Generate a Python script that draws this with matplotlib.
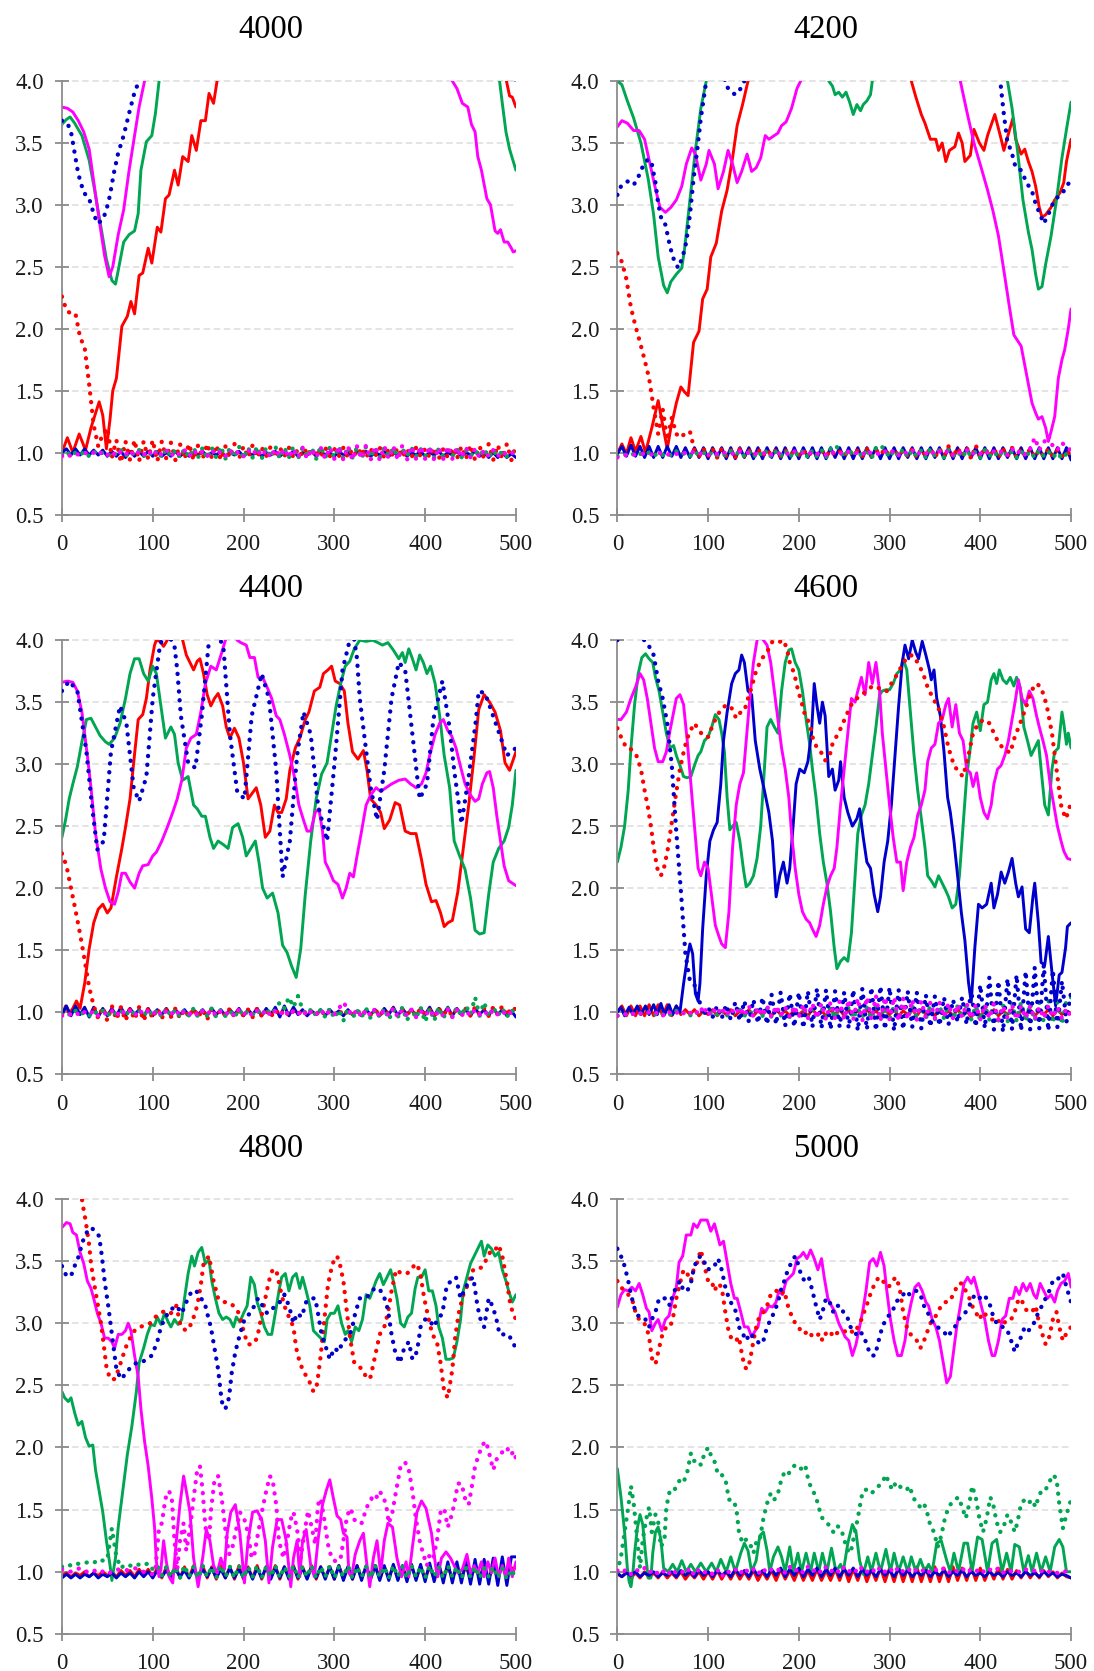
import numpy as np
import matplotlib
matplotlib.use("Agg")
import matplotlib.pyplot as plt
from matplotlib.ticker import FormatStrFormatter, MultipleLocator

RED = "#ff0000"
GREEN = "#00a651"
BLUE = "#0000cc"
MAGENTA = "#ff00ff"

# Series are either (x, y) point lists, or plain y lists sampled every 5 steps (x = 0..500).
STEP = 5

# ---------------- 4000 ----------------
s4000_red = [(0, 1.00), (6, 1.12), (12, 1.00), (19, 1.15), (26, 1.02), (32, 1.20), (41, 1.41), (45, 1.30),
             (49, 1.03), (53, 1.27), (56, 1.50), (60, 1.60), (66, 2.02), (72, 2.10), (76, 2.22), (80, 2.12),
             (85, 2.43), (89, 2.45), (95, 2.65), (99, 2.53), (105, 2.82), (109, 2.78), (114, 3.05), (118, 3.08),
             (124, 3.28), (128, 3.16), (133, 3.39), (139, 3.35), (143, 3.56), (148, 3.44), (153, 3.68), (158, 3.68),
             (162, 3.90), (167, 3.82), (173, 4.10), (480, 4.30), (489, 4.02), (493, 3.88), (496, 3.87), (500, 3.79)]
d4000_red = [2.26, 2.15, 2.12, 2.12, 1.93, 1.85, 1.55, 1.22, 1.05, 1.15,
             1.20, 0.96, 1.10, 0.92, 1.09, 0.94, 1.10, 0.93, 1.09, 0.95,
             1.10, 0.93, 1.09, 0.95, 1.08, 0.94, 1.07, 0.95, 1.07, 0.94,
             1.06, 0.95, 1.07, 0.96, 1.06, 0.94, 1.05, 0.96, 1.07, 0.95,
             1.05, 0.96, 1.06, 0.96, 1.04, 0.97, 1.05, 0.96, 1.04, 0.97,
             1.04, 0.96, 1.03, 0.97, 1.04, 0.97, 1.03, 0.96, 1.04, 0.97,
             1.03, 0.97, 1.04, 0.96, 1.03, 0.97, 1.04, 0.96, 1.03, 0.97,
             1.04, 0.96, 1.03, 0.97, 1.04, 0.96, 1.03, 0.96, 1.04, 0.97,
             1.03, 0.96, 1.04, 0.95, 1.03, 0.96, 1.04, 0.95, 1.05, 0.95,
             1.06, 0.94, 1.05, 0.95, 1.07, 0.94, 1.06, 0.95, 1.07, 0.94,
             1.06]
s4000_green = [(0, 3.65), (5, 3.69), (9, 3.71), (14, 3.66), (22, 3.56), (30, 3.36), (35, 3.16), (43, 2.82),
               (49, 2.56), (55, 2.39), (59, 2.36), (62, 2.47), (68, 2.70), (74, 2.76), (80, 2.79), (84, 2.93),
               (87, 3.28), (93, 3.51), (99, 3.56), (103, 3.74), (107, 4.00), (110, 4.15), (480, 4.15), (482, 4.00),
               (485, 3.82), (489, 3.59), (493, 3.45), (500, 3.28)]
d4000_green = [0.98, 1.01, 0.97, 1.00, 0.98, 1.01, 0.97, 1.01, 0.98, 1.00,
               0.97, 1.01, 0.98, 1.02, 0.97, 1.01, 0.98, 1.02, 0.97, 1.01,
               0.97, 1.02, 0.96, 1.03, 0.97, 1.02, 0.96, 1.03, 0.96, 1.04,
               0.96, 1.04, 0.95, 1.04, 0.96, 1.05, 0.95, 1.04, 0.96, 1.05,
               0.95, 1.04, 0.96, 1.05, 0.95, 1.04, 0.96, 1.05, 0.95, 1.04,
               0.96, 1.05, 0.95, 1.04, 0.96, 1.04, 0.95, 1.05, 0.96, 1.04,
               0.96, 1.05, 0.95, 1.05, 0.96, 1.04, 0.95, 1.05, 0.96, 1.04,
               0.96, 1.04, 0.97, 1.04, 0.96, 1.03, 0.97, 1.04, 0.97, 1.03,
               0.97, 1.03, 0.96, 1.03, 0.97, 1.02, 0.97, 1.03, 0.96, 1.02,
               0.97, 1.02, 0.97, 1.03, 0.96, 1.02, 0.97, 1.01, 0.97, 1.01,
               0.98]
s4000_blue = [1.00, 1.03, 0.98, 1.03, 0.98, 1.03, 0.98, 1.02, 0.98, 1.02,
              0.97, 1.01, 0.97, 1.01, 0.96, 1.01, 0.97, 1.01, 0.97, 1.01,
              0.97, 1.01, 0.97, 1.00, 0.97, 1.01, 0.97, 1.00, 0.97, 1.00,
              0.98, 1.01, 0.97, 1.00, 0.98, 1.01, 0.97, 1.00, 0.98, 1.01,
              0.97, 1.00, 0.98, 1.01, 0.97, 1.00, 0.98, 1.01, 0.97, 1.00,
              0.98, 1.01, 0.97, 1.00, 0.98, 1.01, 0.97, 1.01, 0.98, 1.00,
              0.97, 1.01, 0.98, 1.00, 0.97, 1.01, 0.98, 1.01, 0.97, 1.00,
              0.98, 1.01, 0.97, 1.00, 0.98, 1.01, 0.97, 1.00, 0.98, 1.01,
              0.97, 1.00, 0.98, 1.01, 0.97, 1.00, 0.98, 1.01, 0.97, 1.00,
              0.98, 1.01, 0.97, 1.00, 0.96, 1.00, 0.96, 1.00, 0.96, 0.99,
              0.96]
d4000_blue = [(0, 3.68), (6, 3.66), (10, 3.59), (14, 3.42), (18, 3.25), (24, 3.10), (30, 3.05), (35, 2.93),
              (39, 2.85), (45, 2.88), (49, 2.96), (53, 3.08), (57, 3.25), (62, 3.42), (68, 3.56), (74, 3.74),
              (80, 3.91), (85, 4.00), (89, 4.10), (492, 4.10), (500, 4.00)]
s4000_magenta = [(0, 3.79), (6, 3.78), (12, 3.75), (18, 3.68), (24, 3.59), (30, 3.45), (35, 3.19), (41, 2.88),
                 (47, 2.59), (52, 2.42), (56, 2.50), (62, 2.76), (68, 2.96), (74, 3.28), (80, 3.56), (85, 3.79),
                 (91, 4.00), (94, 4.15), (425, 4.15), (430, 4.00), (435, 3.94), (441, 3.82), (447, 3.79),
                 (451, 3.65), (455, 3.59), (458, 3.39), (462, 3.28), (468, 3.05), (472, 3.00), (477, 2.79),
                 (480, 2.77), (483, 2.80), (487, 2.70), (491, 2.70), (495, 2.65), (497, 2.62), (500, 2.63)]
d4000_magenta = [0.97, 0.99, 0.97, 0.99, 0.98, 1.00, 0.98, 1.00, 0.98, 1.01,
                 0.98, 1.01, 0.97, 1.01, 0.98, 1.02, 0.97, 1.01, 0.98, 1.02,
                 0.97, 1.02, 0.98, 1.02, 0.97, 1.01, 0.98, 1.02, 0.97, 1.02,
                 0.98, 1.01, 0.97, 1.02, 0.98, 1.01, 0.97, 1.02, 0.98, 1.01,
                 0.97, 1.02, 0.98, 1.03, 0.97, 1.02, 0.96, 1.03, 0.97, 1.03,
                 0.96, 1.03, 0.96, 1.04, 0.95, 1.03, 0.96, 1.04, 0.95, 1.04,
                 0.95, 1.05, 0.94, 1.05, 0.94, 1.05, 0.95, 1.06, 0.94, 1.05,
                 0.94, 1.05, 0.95, 1.05, 0.94, 1.06, 0.94, 1.05, 0.95, 1.05,
                 0.95, 1.05, 0.94, 1.04, 0.95, 1.05, 0.95, 1.04, 0.96, 1.04,
                 0.96, 1.03, 0.96, 1.02, 0.97, 1.02, 0.97, 1.01, 0.98, 1.00,
                 0.99]

# ---------------- 4200 ----------------
s4200_red = [(0, 0.99), (5, 1.07), (10, 0.99), (15, 1.12), (20, 1.01), (26, 1.13), (31, 1.00), (38, 1.20),
             (45, 1.42), (49, 1.26), (55, 1.03), (59, 1.20), (65, 1.40), (70, 1.53), (74, 1.49), (78, 1.46),
             (84, 1.89), (90, 1.98), (94, 2.24), (99, 2.32), (103, 2.58), (109, 2.69), (115, 2.95), (121, 3.12),
             (127, 3.38), (132, 3.64), (138, 3.81), (144, 4.00), (147, 4.10), (320, 4.10), (324, 4.00),
             (329, 3.87), (335, 3.73), (339, 3.66), (345, 3.53), (351, 3.53), (354, 3.44), (358, 3.50),
             (362, 3.35), (366, 3.44), (372, 3.47), (376, 3.58), (380, 3.50), (383, 3.35), (389, 3.40),
             (393, 3.61), (399, 3.50), (404, 3.44), (408, 3.56), (416, 3.73), (422, 3.56), (426, 3.44),
             (432, 3.60), (436, 3.70), (439, 3.53), (445, 3.41), (449, 3.45), (453, 3.35), (457, 3.27),
             (461, 3.15), (465, 2.98), (468, 2.90), (472, 2.92), (478, 2.98), (482, 3.04), (488, 3.10),
             (492, 3.18), (495, 3.35), (500, 3.53)]
d4200_red = [2.61, 2.54, 2.40, 2.17, 2.02, 1.89, 1.75, 1.60, 1.36, 1.15,
             1.35, 1.10, 1.28, 1.15, 1.12, 1.16, 1.17, 1.02, 0.97, 1.03,
             0.97, 1.03, 0.96, 1.03, 0.97, 1.02, 0.96, 1.03, 0.97, 1.02,
             0.97, 1.03, 0.97, 1.02, 0.98, 1.02, 0.97, 1.02, 0.98, 1.01,
             0.98, 1.02, 0.97, 1.01, 0.98, 1.02, 0.97, 1.02, 0.98, 1.01,
             0.97, 1.02, 0.98, 1.02, 0.97, 1.03, 0.97, 1.02, 0.98, 1.03,
             0.97, 1.03, 0.97, 1.02, 0.97, 1.03, 0.96, 1.03, 0.97, 1.04,
             0.96, 1.03, 0.97, 1.05, 0.96, 1.04, 0.97, 1.04, 0.95, 1.06,
             0.96, 1.04, 0.97, 1.03, 0.96, 1.03, 0.97, 1.04, 0.96, 1.03,
             0.97, 1.03, 0.96, 1.02, 0.97, 1.03, 0.97, 1.02, 0.97, 1.01,
             0.98]
s4200_green = [(0, 4.00), (5, 3.97), (11, 3.84), (18, 3.70), (26, 3.50), (34, 3.21), (40, 2.92), (45, 2.58),
               (51, 2.35), (55, 2.29), (59, 2.38), (65, 2.44), (71, 2.49), (74, 2.64), (80, 3.04), (86, 3.44),
               (92, 3.78), (98, 4.00), (100, 4.10), (230, 4.10), (233, 4.00), (237, 3.96), (240, 3.89),
               (244, 3.91), (248, 3.87), (252, 3.91), (256, 3.83), (260, 3.73), (264, 3.81), (268, 3.76),
               (271, 3.81), (275, 3.84), (279, 3.89), (281, 4.00), (284, 4.10), (428, 4.10), (430, 4.00),
               (435, 3.78), (441, 3.44), (447, 3.04), (453, 2.78), (457, 2.64), (461, 2.44), (464, 2.32),
               (468, 2.34), (472, 2.52), (478, 2.75), (484, 3.04), (490, 3.38), (495, 3.61), (500, 3.83)]
d4200_green = [0.97, 0.99, 0.98, 1.00, 0.97, 0.99, 0.98, 1.00, 0.97, 1.00,
               0.98, 1.00, 0.97, 1.01, 0.98, 1.00, 0.97, 1.01, 0.98, 1.00,
               0.97, 1.01, 0.98, 1.00, 0.97, 1.01, 0.98, 1.01, 0.97, 1.01,
               0.96, 1.01, 0.97, 1.02, 0.96, 1.01, 0.97, 1.02, 0.96, 1.01,
               0.97, 1.02, 0.96, 1.02, 0.97, 1.02, 0.96, 1.03, 1.06, 1.02,
               0.96, 1.03, 0.97, 1.02, 0.96, 1.03, 0.95, 1.04, 1.06, 1.02,
               0.96, 1.02, 0.97, 1.03, 0.96, 1.02, 0.97, 1.02, 0.96, 1.03,
               0.97, 1.02, 0.96, 1.02, 0.97, 1.01, 0.96, 1.02, 0.97, 1.01,
               0.96, 1.02, 0.97, 1.01, 0.96, 1.02, 0.97, 1.01, 0.96, 1.01,
               0.97, 1.01, 0.96, 1.02, 0.97, 1.01, 0.96, 1.00, 0.95, 0.99,
               0.96]
s4200_blue = [0.99, 1.05, 0.97, 1.06, 0.97, 1.05, 0.96, 1.05, 0.96, 1.05,
              0.96, 1.05, 0.97, 1.05, 0.96, 1.04, 0.96, 1.04, 0.96, 1.04,
              0.95, 1.04, 0.96, 1.04, 0.95, 1.04, 0.95, 1.04, 0.96, 1.04,
              0.95, 1.04, 0.95, 1.04, 0.96, 1.04, 0.95, 1.04, 0.95, 1.04,
              0.95, 1.04, 0.96, 1.04, 0.95, 1.04, 0.95, 1.04, 0.96, 1.04,
              0.95, 1.04, 0.95, 1.04, 0.95, 1.04, 0.96, 1.04, 0.95, 1.04,
              0.95, 1.04, 0.95, 1.04, 0.96, 1.04, 0.95, 1.04, 0.95, 1.04,
              0.96, 1.04, 0.95, 1.04, 0.95, 1.04, 0.95, 1.04, 0.96, 1.04,
              0.95, 1.04, 0.95, 1.04, 0.95, 1.04, 0.96, 1.04, 0.95, 1.04,
              0.95, 1.04, 0.95, 1.04, 0.95, 1.04, 0.95, 1.04, 0.95, 1.04,
              0.94]
d4200_blue = [(0, 3.08), (4, 3.15), (11, 3.19), (18, 3.16), (24, 3.24), (28, 3.31), (34, 3.37), (38, 3.33),
              (42, 3.18), (45, 3.01), (49, 2.87), (53, 2.84), (57, 2.70), (61, 2.58), (67, 2.49), (72, 2.58),
              (76, 2.70), (80, 2.92), (84, 3.21), (88, 3.44), (92, 3.70), (96, 3.90), (98, 4.00), (100, 4.10),
              (116, 4.10), (120, 3.96), (126, 3.91), (130, 3.89), (136, 3.94), (140, 4.00), (143, 4.10),
              (420, 4.10), (422, 4.00), (426, 3.73), (430, 3.50), (434, 3.44), (439, 3.30), (445, 3.28),
              (451, 3.18), (457, 3.11), (461, 3.01), (466, 2.92), (470, 2.85), (476, 2.94), (480, 3.01),
              (486, 3.07), (491, 3.10), (495, 3.15), (500, 3.20)]
s4200_magenta = [(0, 3.63), (5, 3.68), (11, 3.66), (18, 3.60), (24, 3.60), (30, 3.53), (36, 3.33), (42, 3.13),
                 (47, 2.98), (53, 2.94), (59, 2.98), (65, 3.04), (71, 3.15), (76, 3.33), (82, 3.46), (86, 3.41),
                 (92, 3.20), (98, 3.33), (101, 3.44), (107, 3.33), (111, 3.13), (117, 3.27), (122, 3.44),
                 (127, 3.33), (132, 3.18), (137, 3.27), (143, 3.41), (148, 3.27), (153, 3.30), (158, 3.38),
                 (163, 3.56), (167, 3.53), (173, 3.56), (177, 3.58), (181, 3.64), (186, 3.67), (192, 3.78),
                 (198, 3.94), (202, 4.00), (205, 4.10), (374, 4.10), (378, 4.00), (385, 3.76), (393, 3.50),
                 (401, 3.30), (408, 3.12), (414, 2.95), (420, 2.75), (426, 2.47), (432, 2.18), (437, 1.95),
                 (445, 1.86), (451, 1.63), (457, 1.40), (461, 1.32), (464, 1.27), (468, 1.29), (472, 1.20),
                 (475, 1.09), (478, 1.17), (482, 1.29), (486, 1.60), (490, 1.75), (493, 1.83), (497, 2.00),
                 (500, 2.16)]
d4200_magenta = [0.96, 0.98, 0.98, 0.99, 0.98, 0.99, 0.99, 0.98, 0.99, 1.00,
                 0.99, 0.98, 1.00, 0.99, 0.98, 1.00, 0.99, 1.01, 0.99, 1.00,
                 0.98, 1.00, 0.99, 1.01, 0.99, 1.00, 0.98, 1.01, 0.99, 1.00,
                 0.98, 1.00, 0.99, 1.01, 0.98, 1.00, 0.99, 1.00, 0.98, 1.01,
                 0.99, 1.00, 0.98, 1.01, 0.99, 1.00, 0.98, 1.01, 0.99, 1.00,
                 0.98, 1.01, 0.99, 1.00, 0.98, 1.02, 0.99, 1.00, 0.98, 1.01,
                 0.99, 1.02, 0.98, 1.01, 0.99, 1.02, 0.98, 1.01, 0.99, 1.02,
                 0.98, 1.01, 0.99, 1.02, 0.98, 1.01, 0.99, 1.02, 0.98, 1.01,
                 0.99, 1.02, 0.98, 1.01, 0.99, 1.02, 0.98, 1.03, 0.99, 1.02,
                 0.98, 1.03, 1.12, 1.02, 1.08, 1.14, 1.05, 1.02, 1.08, 1.04,
                 1.02]

# ---------------- 4400 ----------------
s4400_red = [(0, 0.97), (4, 1.05), (8, 0.99), (12, 1.03), (16, 1.09), (20, 1.03), (25, 1.23), (30, 1.51),
             (35, 1.72), (40, 1.83), (45, 1.87), (50, 1.80), (54, 1.84), (60, 2.09), (66, 2.32), (70, 2.49),
             (75, 2.72), (79, 3.01), (84, 3.36), (89, 3.40), (93, 3.53), (97, 3.76), (102, 3.96), (104, 4.00),
             (108, 3.99), (112, 3.95), (116, 4.00), (120, 4.05), (130, 4.05), (133, 4.00), (137, 3.88),
             (141, 3.82), (145, 3.76), (149, 3.83), (152, 3.85), (156, 3.73), (160, 3.56), (164, 3.47),
             (168, 3.53), (172, 3.57), (177, 3.47), (181, 3.30), (185, 3.21), (190, 3.29), (195, 3.21),
             (200, 3.01), (205, 2.72), (208, 2.75), (214, 2.81), (219, 2.67), (224, 2.41), (229, 2.46),
             (234, 2.67), (238, 2.61), (242, 2.61), (247, 2.72), (251, 2.95), (257, 3.13), (262, 3.21),
             (268, 3.36), (272, 3.42), (278, 3.59), (284, 3.62), (288, 3.73), (293, 3.76), (297, 3.79),
             (301, 3.67), (306, 3.65), (311, 3.59), (315, 3.33), (320, 3.10), (326, 3.04), (332, 3.11),
             (336, 2.95), (340, 2.72), (346, 2.67), (351, 2.61), (355, 2.48), (361, 2.55), (367, 2.69),
             (372, 2.67), (378, 2.46), (384, 2.44), (390, 2.44), (396, 2.23), (401, 2.03), (407, 1.89),
             (412, 1.90), (417, 1.80), (421, 1.69), (425, 1.72), (430, 1.74), (436, 1.97), (442, 2.32),
             (448, 2.67), (454, 3.07), (459, 3.44), (465, 3.56), (471, 3.50), (477, 3.42), (483, 3.27),
             (488, 3.01), (493, 2.95), (500, 3.10)]
d4400_red = [2.28, 2.18, 2.00, 1.82, 1.63, 1.42, 1.20, 1.05, 0.95, 1.04,
             0.93, 1.05, 0.94, 1.04, 0.93, 1.03, 0.94, 1.04, 0.93, 1.03,
             0.95, 1.03, 0.95, 1.02, 0.96, 1.03, 0.95, 1.02, 0.96, 1.03,
             0.96, 1.02, 0.94, 1.03, 0.96, 1.02, 0.97, 1.03, 0.96, 1.02,
             0.97, 1.02, 0.96, 1.03, 0.97, 1.01, 0.96, 1.02, 0.97, 1.02,
             0.97, 1.01, 0.98, 1.02, 0.97, 1.01, 0.98, 1.02, 0.97, 1.01,
             0.98, 1.02, 0.97, 1.01, 0.98, 1.02, 0.97, 1.01, 0.98, 1.02,
             0.97, 1.02, 0.98, 1.03, 0.97, 1.02, 0.98, 1.02, 0.97, 1.03,
             0.98, 1.02, 0.97, 1.03, 0.98, 1.02, 0.97, 1.03, 0.98, 1.03,
             0.97, 1.04, 0.98, 1.03, 0.97, 1.04, 0.98, 1.05, 0.97, 1.04,
             1.02]
s4400_green = [(0, 2.41), (4, 2.55), (8, 2.72), (12, 2.84), (17, 2.98), (22, 3.18), (27, 3.36), (32, 3.37),
               (37, 3.30), (42, 3.23), (48, 3.18), (52, 3.16), (58, 3.21), (64, 3.33), (70, 3.53), (75, 3.73),
               (80, 3.85), (85, 3.85), (90, 3.73), (95, 3.67), (100, 3.79), (104, 3.73), (109, 3.47),
               (114, 3.21), (120, 3.30), (124, 3.24), (128, 3.01), (133, 2.87), (139, 2.90), (145, 2.67),
               (149, 2.64), (154, 2.58), (158, 2.58), (163, 2.41), (167, 2.32), (172, 2.38), (178, 2.35),
               (183, 2.32), (188, 2.49), (194, 2.52), (199, 2.41), (203, 2.26), (208, 2.32), (213, 2.38),
               (217, 2.21), (221, 2.00), (226, 1.92), (232, 1.96), (238, 1.80), (243, 1.54), (248, 1.48),
               (253, 1.37), (258, 1.28), (263, 1.51), (268, 1.95), (274, 2.38), (280, 2.72), (286, 2.92),
               (292, 3.01), (297, 3.24), (302, 3.47), (307, 3.65), (312, 3.79), (317, 3.83), (322, 3.93),
               (328, 4.00), (335, 3.99), (342, 4.00), (348, 3.98), (353, 3.96), (359, 3.98), (365, 3.92),
               (371, 3.85), (375, 3.90), (378, 3.82), (382, 3.93), (386, 3.85), (390, 3.76), (394, 3.88),
               (398, 3.82), (402, 3.73), (406, 3.79), (411, 3.65), (416, 3.39), (421, 3.07), (427, 2.81),
               (432, 2.38), (438, 2.26), (444, 2.15), (450, 1.92), (455, 1.66), (460, 1.63), (465, 1.64),
               (470, 1.95), (475, 2.21), (481, 2.32), (487, 2.38), (492, 2.49), (496, 2.67), (500, 2.95)]
d4400_green = [0.98, 1.00, 0.97, 1.01, 0.98, 1.00, 0.97, 1.01, 0.98, 1.01,
               0.97, 1.01, 0.98, 1.01, 0.97, 1.02, 0.98, 1.01, 0.97, 1.02,
               0.97, 1.02, 0.96, 1.03, 0.97, 1.02, 0.96, 1.02, 0.97, 1.03,
               0.96, 1.02, 0.97, 1.03, 0.96, 1.02, 0.97, 1.01, 0.96, 1.02,
               0.97, 1.01, 0.98, 1.02, 0.97, 1.03, 0.98, 1.02, 1.08, 1.03,
               1.12, 1.04, 1.13, 1.02, 0.98, 1.03, 0.97, 1.02, 0.96, 1.03,
               0.95, 1.02, 0.93, 1.03, 0.95, 1.02, 0.96, 1.03, 0.95, 1.02,
               0.96, 1.03, 0.94, 1.02, 0.96, 1.04, 0.93, 1.03, 0.95, 1.04,
               0.92, 1.03, 0.93, 1.04, 0.95, 1.03, 0.96, 1.04, 0.97, 1.05,
               0.98, 1.12, 0.97, 1.08, 0.96, 1.04, 0.97, 1.03, 0.96, 1.02,
               0.98]
s4400_blue = [0.98, 1.05, 0.97, 1.05, 0.98, 1.04, 0.96, 1.04, 0.96, 1.03,
              0.97, 1.03, 0.97, 1.04, 0.97, 1.03, 0.98, 1.02, 0.96, 1.03,
              0.97, 1.02, 0.98, 1.03, 0.97, 1.02, 0.98, 1.02, 0.97, 1.02,
              0.98, 1.02, 0.97, 1.03, 0.98, 1.02, 0.97, 1.02, 0.98, 1.03,
              0.97, 1.02, 0.98, 1.03, 0.97, 1.03, 0.98, 1.04, 0.96, 1.05,
              0.97, 1.04, 0.98, 1.02, 0.97, 1.01, 0.98, 1.02, 0.97, 1.02,
              0.98, 1.01, 0.97, 1.02, 0.98, 1.01, 0.97, 1.02, 0.98, 1.02,
              0.97, 1.03, 0.98, 1.04, 0.97, 1.03, 0.98, 1.02, 0.97, 1.03,
              0.98, 1.04, 0.97, 1.03, 0.98, 1.04, 0.97, 1.03, 0.98, 1.02,
              0.97, 1.03, 0.98, 1.02, 0.97, 1.03, 0.98, 1.02, 0.97, 1.01,
              0.96]
d4400_blue = [(0, 3.59), (8, 3.67), (17, 3.59), (27, 3.10), (33, 2.67), (39, 2.31), (46, 2.38), (54, 3.10),
              (64, 3.47), (71, 3.33), (79, 2.81), (85, 2.70), (93, 2.90), (100, 3.53), (108, 3.96), (113, 4.05),
              (119, 4.02), (124, 3.95), (127, 3.76), (131, 3.39), (139, 3.01), (147, 2.97), (154, 3.39),
              (162, 4.00), (170, 4.10), (178, 3.93), (185, 3.24), (193, 2.78), (201, 2.72), (209, 3.39),
              (220, 3.73), (228, 3.53), (236, 2.95), (243, 2.09), (251, 2.38), (259, 3.07), (266, 3.42),
              (274, 3.24), (282, 2.67), (292, 2.38), (301, 3.07), (309, 3.76), (317, 4.00), (321, 4.05),
              (325, 3.85), (328, 3.53), (340, 2.81), (347, 2.55), (355, 2.95), (363, 3.53), (371, 3.82),
              (378, 3.76), (386, 3.24), (394, 2.72), (402, 2.84), (409, 3.36), (419, 3.67), (427, 3.29),
              (432, 2.95), (440, 2.52), (448, 2.90), (456, 3.36), (459, 3.59), (466, 3.57), (471, 3.47),
              (482, 3.24), (490, 3.07), (500, 3.13)]
s4400_magenta = [(0, 3.66), (6, 3.67), (12, 3.66), (17, 3.59), (22, 3.42), (28, 3.07), (32, 2.81), (37, 2.44),
                 (43, 2.15), (48, 2.00), (53, 1.89), (58, 1.87), (62, 1.97), (66, 2.12), (70, 2.12), (75, 2.05),
                 (80, 2.00), (85, 2.12), (89, 2.18), (95, 2.19), (100, 2.26), (104, 2.29), (110, 2.38),
                 (116, 2.49), (122, 2.61), (127, 2.72), (132, 2.87), (137, 3.13), (142, 3.21), (148, 3.24),
                 (153, 3.42), (158, 3.65), (164, 3.79), (170, 3.76), (176, 3.90), (180, 4.00), (184, 4.08),
                 (190, 4.08), (193, 4.00), (197, 3.98), (203, 3.96), (207, 3.86), (212, 3.86), (216, 3.70),
                 (221, 3.70), (226, 3.62), (231, 3.53), (236, 3.39), (240, 3.36), (245, 3.24), (251, 3.07),
                 (256, 2.90), (261, 2.67), (266, 2.55), (270, 2.46), (274, 2.46), (279, 2.61), (283, 2.64),
                 (287, 2.46), (290, 2.21), (294, 2.15), (299, 2.06), (304, 2.03), (309, 1.92), (313, 2.00),
                 (317, 2.12), (321, 2.09), (325, 2.26), (330, 2.46), (335, 2.67), (340, 2.75), (346, 2.81),
                 (351, 2.78), (357, 2.81), (363, 2.84), (371, 2.87), (378, 2.88), (384, 2.84), (390, 2.81),
                 (396, 2.84), (401, 2.93), (405, 3.07), (411, 3.24), (416, 3.33), (420, 3.36), (425, 3.27),
                 (429, 3.23), (434, 3.13), (439, 2.98), (444, 2.84), (450, 2.75), (455, 2.70), (459, 2.72),
                 (463, 2.84), (468, 2.93), (471, 2.94), (475, 2.81), (479, 2.58), (483, 2.38), (487, 2.18),
                 (492, 2.06), (500, 2.02)]
d4400_magenta = [0.97, 0.99, 0.98, 1.00, 0.97, 1.00, 0.98, 1.01, 0.97, 1.00,
                 0.98, 1.01, 0.97, 1.02, 0.98, 1.01, 0.97, 1.02, 0.98, 1.01,
                 0.98, 1.02, 0.97, 1.01, 0.98, 1.02, 0.97, 1.01, 0.98, 1.01,
                 0.97, 1.01, 0.98, 1.02, 0.97, 1.01, 0.98, 1.01, 0.97, 1.02,
                 0.98, 1.01, 0.97, 1.01, 0.98, 1.02, 0.97, 1.01, 0.98, 1.02,
                 0.97, 1.01, 0.98, 1.02, 0.97, 1.01, 0.98, 1.02, 0.97, 1.01,
                 0.98, 1.03, 1.08, 1.02, 0.97, 1.02, 0.96, 1.02, 0.97, 1.03,
                 0.96, 1.02, 0.97, 1.03, 0.96, 1.02, 0.97, 1.02, 0.96, 1.01,
                 0.97, 1.02, 0.96, 1.01, 0.97, 1.02, 0.96, 1.02, 0.97, 1.01,
                 0.97, 1.02, 0.98, 1.01, 0.97, 1.02, 0.98, 1.01, 0.97, 1.00,
                 0.99]

# ---------------- 4600 ----------------
s4600_red = [1.00, 1.05, 0.97, 1.05, 0.97, 1.05, 0.97, 1.06, 0.97, 1.06,
             0.97, 1.06, 0.97, 1.05, 0.98, 1.02, 0.98, 1.02, 0.97, 1.01,
             0.98, 1.02, 0.97, 1.01, 0.98, 1.02, 0.97, 1.01, 0.98, 1.02,
             0.97, 1.01, 0.98, 1.02, 0.97, 1.02, 0.98, 1.01, 0.97, 1.02,
             0.98, 1.01, 0.97, 1.02, 0.98, 1.01, 0.97, 1.02, 0.98, 1.02,
             0.97, 1.02, 0.98, 1.01, 0.97, 1.02, 0.98, 1.01, 0.97, 1.02,
             0.98, 1.02, 0.97, 1.01, 0.98, 1.02, 0.97, 1.02, 0.98, 1.01,
             0.97, 1.02, 0.98, 1.01, 0.97, 1.02, 0.98, 1.01, 0.96, 1.02,
             0.97, 1.01, 0.98, 1.02, 0.97, 1.01, 0.98, 1.02, 0.97, 1.01,
             0.98, 1.02, 0.97, 1.01, 0.98, 1.02, 0.97, 1.02, 0.98, 1.01,
             0.99]
d4600_red = [(0, 3.29), (4, 3.22), (10, 3.13), (15, 3.12), (21, 3.07), (26, 2.96), (30, 2.79), (34, 2.64),
             (37, 2.50), (40, 2.33), (44, 2.16), (48, 2.10), (52, 2.18), (56, 2.33), (60, 2.53), (64, 2.73),
             (69, 2.96), (74, 3.13), (79, 3.25), (85, 3.33), (90, 3.27), (96, 3.22), (100, 3.22), (106, 3.33),
             (110, 3.39), (115, 3.45), (121, 3.48), (126, 3.45), (131, 3.37), (136, 3.42), (140, 3.43),
             (144, 3.53), (148, 3.62), (152, 3.73), (157, 3.82), (162, 3.88), (167, 3.93), (171, 3.99),
             (177, 3.98), (183, 4.00), (187, 3.93), (190, 3.82), (195, 3.73), (199, 3.60), (203, 3.50),
             (207, 3.39), (212, 3.33), (215, 3.22), (220, 3.13), (225, 3.09), (229, 3.03), (234, 3.07),
             (237, 3.16), (242, 3.23), (247, 3.30), (252, 3.39), (258, 3.48), (264, 3.53), (269, 3.56),
             (275, 3.59), (281, 3.63), (287, 3.62), (292, 3.59), (297, 3.59), (302, 3.65), (308, 3.72),
             (314, 3.80), (319, 3.86), (325, 3.88), (331, 3.82), (337, 3.73), (342, 3.62), (348, 3.53),
             (354, 3.45), (360, 3.30), (365, 3.13), (371, 2.99), (377, 2.93), (381, 2.90), (387, 3.07),
             (392, 3.25), (398, 3.33), (404, 3.36), (410, 3.33), (415, 3.25), (421, 3.16), (427, 3.12),
             (433, 3.09), (438, 3.22), (444, 3.33), (450, 3.45), (456, 3.59), (462, 3.65), (467, 3.62),
             (473, 3.48), (479, 3.25), (484, 2.96), (489, 2.67), (494, 2.56), (497, 2.61), (500, 2.70)]
s4600_green = [(0, 2.21), (4, 2.33), (8, 2.50), (12, 2.79), (15, 3.13), (19, 3.48), (23, 3.73), (27, 3.86),
               (31, 3.89), (35, 3.85), (39, 3.82), (42, 3.70), (46, 3.59), (50, 3.42), (54, 3.25), (58, 3.13),
               (62, 3.15), (65, 3.07), (69, 2.99), (73, 2.90), (77, 2.89), (81, 2.90), (85, 2.99), (89, 3.07),
               (92, 3.10), (96, 3.19), (100, 3.22), (104, 3.30), (108, 3.40), (112, 3.36), (115, 3.25),
               (118, 3.10), (121, 2.73), (124, 2.47), (127, 2.50), (131, 2.53), (135, 2.38), (139, 2.15),
               (142, 2.01), (146, 2.04), (150, 2.10), (154, 2.24), (158, 2.50), (162, 2.96), (165, 3.30),
               (169, 3.36), (173, 3.30), (177, 3.25), (181, 3.59), (185, 3.82), (189, 3.92), (192, 3.93),
               (196, 3.82), (200, 3.76), (204, 3.59), (208, 3.36), (212, 3.16), (215, 2.96), (219, 2.73),
               (223, 2.44), (227, 2.21), (231, 2.04), (235, 1.81), (239, 1.52), (242, 1.35), (246, 1.41),
               (250, 1.44), (254, 1.41), (258, 1.64), (262, 2.10), (265, 2.44), (269, 2.59), (273, 2.67),
               (277, 2.84), (281, 3.07), (285, 3.30), (289, 3.56), (292, 3.59), (296, 3.60), (300, 3.60),
               (304, 3.65), (308, 3.73), (312, 3.76), (315, 3.85), (319, 3.76), (323, 3.42), (327, 3.07),
               (331, 2.79), (335, 2.56), (339, 2.33), (342, 2.10), (346, 2.06), (350, 2.01), (354, 2.10),
               (358, 2.04), (362, 1.98), (365, 1.93), (369, 1.84), (373, 1.87), (377, 2.10), (381, 2.50),
               (385, 2.90), (389, 3.13), (392, 3.33), (396, 3.42), (400, 3.27), (404, 3.48), (408, 3.50),
               (412, 3.68), (415, 3.73), (418, 3.65), (421, 3.76), (425, 3.68), (429, 3.65), (433, 3.70),
               (437, 3.63), (440, 3.70), (444, 3.62), (448, 3.30), (452, 3.19), (456, 3.07), (460, 3.13),
               (464, 3.19), (467, 2.96), (471, 2.67), (475, 2.59), (479, 2.96), (482, 3.10), (486, 3.13),
               (490, 3.42), (492, 3.33), (495, 3.16), (497, 3.25), (500, 3.13)]
d4600_green = [0.97, 0.99, 0.98, 1.00, 0.97, 0.99, 0.98, 1.00, 0.97, 1.00,
               0.98, 1.00, 0.97, 1.01, 0.98, 1.00, 0.97, 1.01, 0.98, 1.00,
               0.97, 1.01, 0.98, 1.02, 0.96, 1.01, 0.98, 1.02, 0.97, 1.01,
               0.98, 1.02, 0.97, 1.03, 0.96, 1.02, 0.97, 1.03, 0.96, 1.02,
               0.97, 1.03, 0.96, 1.02, 0.97, 1.03, 0.96, 1.04, 0.95, 1.03,
               0.96, 1.04, 0.95, 1.03, 0.96, 1.04, 0.95, 1.05, 0.96, 1.04,
               0.95, 1.05, 0.96, 1.04, 0.95, 1.05, 0.96, 1.04, 0.95, 1.05,
               0.94, 1.05, 0.95, 1.06, 0.94, 1.05, 0.95, 1.06, 0.94, 1.05,
               0.93, 1.06, 0.94, 1.07, 0.93, 1.06, 0.92, 1.07, 0.93, 1.08,
               0.92, 1.07, 0.93, 1.08, 0.92, 1.10, 0.91, 1.08, 0.90, 1.10,
               1.12]
s4600_blue = [(0, 1.00), (4, 1.04), (8, 0.97), (13, 1.04), (17, 0.98), (22, 1.05), (26, 0.98), (31, 1.05),
              (35, 0.98), (40, 1.06), (44, 0.98), (48, 1.07), (52, 0.98), (57, 1.06), (61, 0.98), (65, 1.05),
              (69, 1.00), (73, 1.23), (77, 1.43), (80, 1.55), (83, 1.47), (86, 1.15), (89, 1.09), (91, 1.23),
              (94, 1.67), (98, 2.10), (102, 2.38), (106, 2.47), (110, 2.53), (114, 2.84), (117, 3.19),
              (121, 3.42), (126, 3.65), (130, 3.73), (134, 3.76), (137, 3.88), (140, 3.82), (144, 3.59),
              (148, 3.56), (152, 3.19), (157, 2.96), (162, 2.79), (167, 2.61), (171, 2.38), (175, 1.93),
              (179, 2.10), (183, 2.21), (187, 2.04), (190, 2.16), (194, 2.53), (197, 2.84), (201, 2.96),
              (206, 2.93), (210, 3.02), (214, 3.25), (217, 3.65), (220, 3.47), (223, 3.33), (226, 3.50),
              (229, 3.39), (233, 2.90), (237, 2.96), (240, 2.79), (244, 2.87), (246, 3.02), (250, 2.73),
              (254, 2.61), (259, 2.50), (264, 2.56), (267, 2.64), (271, 2.41), (275, 2.21), (279, 2.16),
              (283, 1.95), (287, 1.81), (290, 1.93), (294, 2.21), (298, 2.38), (302, 2.67), (306, 3.07),
              (310, 3.47), (314, 3.82), (317, 3.96), (321, 3.85), (325, 4.00), (329, 3.90), (332, 3.85),
              (336, 3.99), (340, 3.88), (344, 3.76), (346, 3.68), (349, 3.76), (352, 3.53), (356, 3.39),
              (360, 3.10), (364, 2.73), (367, 2.61), (371, 2.38), (375, 2.10), (379, 1.81), (383, 1.58),
              (387, 1.24), (390, 1.08), (394, 1.52), (398, 1.87), (402, 1.84), (407, 1.87), (412, 2.04),
              (415, 1.84), (419, 1.95), (423, 2.13), (427, 2.04), (431, 2.13), (435, 2.24), (439, 2.04),
              (442, 1.93), (446, 2.01), (450, 1.67), (454, 1.64), (458, 1.93), (460, 2.04), (464, 1.72),
              (467, 1.40), (471, 1.38), (475, 1.61), (479, 1.32), (483, 1.05), (487, 1.30), (490, 1.32),
              (494, 1.52), (496, 1.69), (500, 1.72)]
d4600_blue = [4.00, 4.10, 4.10, 4.10, 4.10, 4.10, 3.99, 3.95, 3.88, 3.67,
              3.53, 3.33, 2.99, 2.45, 1.98, 1.47, 1.25, 1.22, 1.10, 0.97,
              1.04, 0.96, 1.05, 0.95, 1.06, 0.94, 1.08, 0.93, 1.09, 0.92,
              1.10, 0.91, 1.12, 0.90, 1.14, 0.90, 1.16, 0.89, 1.15, 0.88,
              1.16, 0.87, 1.17, 0.88, 1.19, 0.87, 1.18, 0.86, 1.17, 0.88,
              1.16, 0.87, 1.18, 0.85, 1.19, 0.86, 1.20, 0.85, 1.21, 0.86,
              1.20, 0.85, 1.18, 0.86, 1.17, 0.88, 1.16, 0.87, 1.14, 0.88,
              1.13, 0.89, 1.12, 0.90, 1.10, 0.92, 1.12, 0.90, 1.18, 0.88,
              1.22, 0.87, 1.28, 0.86, 1.25, 0.84, 1.27, 0.86, 1.30, 0.85,
              1.33, 0.86, 1.36, 0.87, 1.38, 0.85, 1.34, 0.88, 1.25, 0.92,
              1.16]
s4600_magenta = [(0, 3.36), (4, 3.36), (10, 3.42), (15, 3.53), (20, 3.62), (25, 3.73), (29, 3.68), (33, 3.53),
                 (37, 3.33), (41, 3.13), (45, 3.02), (50, 3.02), (54, 3.10), (58, 3.27), (62, 3.42), (65, 3.53),
                 (69, 3.56), (73, 3.48), (77, 3.19), (81, 2.84), (85, 2.50), (89, 2.16), (92, 2.10), (96, 2.21),
                 (100, 2.16), (104, 1.93), (108, 1.70), (112, 1.61), (115, 1.55), (119, 1.52), (123, 1.81),
                 (127, 2.33), (131, 2.67), (135, 2.84), (139, 2.93), (142, 3.19), (146, 3.53), (150, 3.82),
                 (154, 4.00), (157, 4.05), (161, 4.00), (165, 3.96), (169, 3.82), (173, 3.59), (177, 3.36),
                 (181, 3.13), (185, 2.96), (189, 2.73), (192, 2.44), (196, 2.16), (200, 1.95), (204, 1.81),
                 (208, 1.75), (212, 1.72), (215, 1.67), (219, 1.61), (223, 1.70), (227, 1.87), (231, 2.01),
                 (235, 2.10), (239, 2.16), (242, 2.33), (246, 2.67), (250, 2.96), (254, 3.25), (258, 3.53),
                 (262, 3.50), (265, 3.59), (269, 3.70), (273, 3.56), (277, 3.82), (281, 3.65), (285, 3.82),
                 (289, 3.59), (292, 3.25), (296, 2.96), (300, 2.67), (304, 2.41), (308, 2.21), (312, 2.21),
                 (315, 1.98), (319, 2.21), (323, 2.33), (327, 2.41), (331, 2.59), (335, 2.67), (339, 2.79),
                 (342, 3.02), (346, 3.13), (350, 3.16), (354, 3.33), (358, 3.36), (362, 3.48), (365, 3.53),
                 (369, 3.30), (373, 3.48), (377, 3.25), (381, 3.19), (385, 2.96), (389, 2.93), (392, 2.82),
                 (396, 2.93), (400, 2.73), (404, 2.61), (408, 2.56), (412, 2.67), (415, 2.84), (419, 2.96),
                 (423, 2.99), (427, 3.07), (431, 3.19), (435, 3.36), (439, 3.53), (442, 3.68), (446, 3.53),
                 (450, 3.48), (454, 3.59), (458, 3.53), (462, 3.39), (465, 3.30), (469, 3.19), (473, 3.07),
                 (477, 2.84), (481, 2.67), (485, 2.50), (489, 2.38), (492, 2.30), (496, 2.24), (500, 2.23)]
d4600_magenta = [0.97, 0.99, 0.98, 1.00, 0.97, 0.99, 0.98, 1.00, 0.98, 1.00,
                 0.97, 1.01, 0.98, 1.00, 0.97, 1.01, 0.99, 1.02, 0.98, 1.05,
                 0.97, 1.03, 0.98, 1.04, 0.97, 1.03, 0.98, 1.04, 0.97, 1.05,
                 0.96, 1.04, 0.97, 1.05, 0.96, 1.05, 0.97, 1.04, 0.96, 1.05,
                 0.96, 1.06, 0.95, 1.07, 0.95, 1.07, 0.94, 1.08, 0.95, 1.09,
                 0.94, 1.10, 0.94, 1.11, 0.93, 1.12, 0.94, 1.13, 0.93, 1.12,
                 0.94, 1.12, 0.93, 1.11, 0.94, 1.10, 0.94, 1.09, 0.95, 1.08,
                 0.95, 1.08, 0.96, 1.07, 0.95, 1.06, 0.96, 1.07, 0.95, 1.06,
                 0.94, 1.06, 0.95, 1.07, 0.94, 1.05, 0.95, 1.06, 0.94, 1.05,
                 0.95, 1.05, 0.94, 1.04, 0.95, 1.05, 0.96, 1.04, 0.95, 1.03,
                 0.96]

# ---------------- 4800 ----------------
s4800_red = [0.97, 0.99, 0.96, 0.99, 0.97, 1.00, 0.96, 0.99, 0.97, 1.00,
             0.97, 1.00, 0.96, 1.01, 0.97, 1.01, 0.96, 1.02, 0.97, 1.02,
             0.96, 1.03, 0.95, 1.04, 0.95, 1.05, 0.95, 1.04, 0.95, 1.05,
             0.94, 1.05, 0.95, 1.04, 0.94, 1.05, 0.95, 1.04, 0.94, 1.05,
             0.94, 1.04, 0.95, 1.05, 0.94, 1.04, 0.95, 1.05, 0.94, 1.04,
             0.95, 1.05, 0.94, 1.04, 0.95, 1.05, 0.94, 1.04, 0.95, 1.04,
             0.94, 1.05, 0.95, 1.04, 0.94, 1.05, 0.95, 1.04, 0.95, 1.05,
             0.94, 1.04, 0.95, 1.05, 0.94, 1.04, 0.95, 1.05, 0.94, 1.04,
             0.95, 1.04, 0.94, 1.05, 0.95, 1.04, 0.95, 1.03, 0.96, 1.04,
             0.95, 1.03, 0.96, 1.04, 0.95, 1.03, 0.96, 1.04, 0.96, 1.03,
             1.03]
d4800_red = [(16, 4.20), (22, 4.00), (24, 3.91), (26, 3.83), (30, 3.63), (32, 3.48), (35, 3.34), (39, 3.17),
             (43, 3.00), (46, 2.83), (49, 2.65), (53, 2.55), (58, 2.55), (62, 2.62), (66, 2.71), (70, 2.80),
             (75, 2.88), (80, 2.94), (85, 2.97), (91, 2.98), (97, 3.00), (103, 3.05), (108, 3.08), (114, 3.10),
             (120, 3.08), (126, 3.14), (131, 2.97), (137, 2.94), (143, 3.00), (149, 3.14), (153, 3.31),
             (156, 3.48), (162, 3.54), (167, 3.34), (172, 3.20), (178, 3.17), (183, 3.17), (189, 3.14),
             (195, 3.08), (201, 2.91), (205, 2.83), (210, 2.83), (215, 2.88), (219, 3.03), (224, 3.20),
             (228, 3.34), (232, 3.43), (236, 3.43), (241, 3.26), (245, 3.14), (250, 3.05), (255, 2.97),
             (258, 2.80), (262, 2.68), (267, 2.60), (272, 2.54), (277, 2.45), (281, 2.51), (285, 2.74),
             (289, 3.03), (293, 3.31), (298, 3.48), (303, 3.54), (306, 3.48), (310, 3.34), (314, 3.08),
             (318, 2.85), (322, 2.68), (327, 2.65), (331, 2.63), (336, 2.55), (340, 2.57), (345, 2.74),
             (350, 2.91), (355, 2.97), (359, 3.08), (363, 3.26), (368, 3.43), (374, 3.40), (380, 3.40),
             (385, 3.43), (389, 3.48), (394, 3.43), (399, 3.20), (404, 3.03), (408, 2.91), (413, 2.85),
             (417, 2.68), (421, 2.45), (425, 2.40), (430, 2.63), (433, 2.88), (437, 3.08), (442, 3.23),
             (447, 3.31), (453, 3.43), (458, 3.43), (464, 3.46), (469, 3.54), (474, 3.60), (478, 3.60),
             (481, 3.63), (485, 3.54), (490, 3.34), (494, 3.14), (497, 3.08), (500, 3.03)]
s4800_green = [(0, 2.45), (3, 2.40), (7, 2.37), (10, 2.40), (14, 2.28), (18, 2.18), (22, 2.21), (26, 2.08),
               (30, 2.01), (34, 2.02), (37, 1.82), (41, 1.65), (45, 1.48), (49, 1.25), (53, 1.05), (55, 0.93),
               (59, 1.11), (62, 1.36), (67, 1.65), (72, 1.94), (77, 2.17), (82, 2.45), (85, 2.68), (90, 2.80),
               (94, 2.91), (98, 2.99), (102, 2.98), (105, 3.05), (109, 2.99), (113, 3.08), (117, 3.01),
               (120, 2.97), (124, 3.03), (128, 2.99), (132, 3.03), (135, 3.20), (139, 3.40), (143, 3.54),
               (146, 3.46), (150, 3.57), (154, 3.61), (158, 3.48), (162, 3.51), (165, 3.34), (169, 3.20),
               (173, 3.08), (177, 3.03), (181, 3.05), (185, 3.03), (189, 2.97), (192, 3.05), (196, 3.01),
               (200, 3.08), (204, 3.14), (208, 3.37), (212, 3.31), (215, 3.17), (219, 3.08), (223, 2.97),
               (227, 2.91), (231, 2.91), (235, 3.08), (239, 3.26), (242, 3.37), (246, 3.40), (250, 3.26),
               (254, 3.37), (258, 3.40), (262, 3.28), (265, 3.37), (269, 3.26), (273, 3.14), (277, 2.94),
               (281, 2.91), (285, 2.88), (289, 2.85), (292, 3.03), (296, 3.08), (300, 3.08), (304, 3.14),
               (308, 3.00), (312, 2.91), (315, 2.94), (319, 2.85), (323, 2.97), (327, 2.94), (331, 3.03),
               (335, 3.23), (339, 3.20), (342, 3.26), (346, 3.34), (350, 3.40), (354, 3.31), (358, 3.37),
               (362, 3.43), (365, 3.34), (369, 3.20), (373, 3.00), (377, 2.97), (381, 3.05), (385, 3.08),
               (389, 3.28), (392, 3.37), (396, 3.37), (400, 3.43), (404, 3.26), (408, 3.26), (412, 3.14),
               (415, 2.97), (419, 2.88), (423, 2.71), (427, 2.71), (431, 2.72), (435, 2.85), (439, 3.03),
               (442, 3.26), (446, 3.37), (450, 3.48), (454, 3.54), (458, 3.60), (462, 3.66), (465, 3.54),
               (469, 3.63), (473, 3.60), (477, 3.54), (481, 3.57), (485, 3.43), (489, 3.34), (492, 3.26),
               (496, 3.17), (500, 3.23)]
d4800_green = [1.04, 1.06, 1.05, 1.07, 1.06, 1.07, 1.08, 1.07, 1.10, 1.09,
               1.10, 1.35, 1.12, 1.03, 1.06, 1.05, 1.04, 1.06, 1.05, 1.07,
               1.02, 1.05, 0.97, 1.04, 0.96, 1.04, 0.95, 1.05, 0.96, 1.04,
               0.95, 1.05, 0.96, 1.04, 0.95, 1.05, 0.96, 1.04, 0.95, 1.05,
               0.95, 1.04, 0.96, 1.05, 0.95, 1.04, 0.96, 1.05, 0.95, 1.04,
               0.96, 1.05, 0.95, 1.04, 0.96, 1.05, 0.95, 1.04, 0.96, 1.05,
               0.95, 1.04, 0.96, 1.05, 0.95, 1.04, 0.96, 1.04, 0.95, 1.05,
               0.96, 1.04, 0.95, 1.05, 0.96, 1.04, 0.95, 1.05, 0.96, 1.04,
               0.95, 1.05, 0.96, 1.04, 0.95, 1.05, 0.96, 1.04, 0.95, 1.03,
               0.96, 1.04, 0.95, 1.03, 0.96, 1.04, 0.95, 1.03, 0.94, 1.02,
               0.94]
s4800_blue = [0.95, 0.98, 0.95, 0.98, 0.95, 0.98, 0.96, 0.99, 0.95, 0.98,
              0.96, 0.99, 0.95, 0.99, 0.96, 0.99, 0.95, 1.00, 0.96, 1.00,
              0.95, 1.01, 0.96, 1.01, 0.95, 1.02, 0.96, 1.01, 0.95, 1.02,
              0.95, 1.02, 0.96, 1.03, 0.95, 1.02, 0.95, 1.03, 0.95, 1.02,
              0.95, 1.03, 0.94, 1.03, 0.95, 1.04, 0.94, 1.03, 0.95, 1.04,
              0.94, 1.04, 0.95, 1.03, 0.94, 1.04, 0.95, 1.04, 0.94, 1.04,
              0.94, 1.05, 0.93, 1.04, 0.94, 1.05, 0.93, 1.05, 0.94, 1.05,
              0.93, 1.05, 0.93, 1.06, 0.93, 1.05, 0.92, 1.06, 0.93, 1.06,
              0.92, 1.07, 0.92, 1.07, 0.91, 1.08, 0.91, 1.08, 0.91, 1.09,
              0.90, 1.10, 0.90, 1.10, 0.90, 1.11, 0.89, 1.12, 0.89, 1.12,
              1.12]
d4800_blue = [(0, 3.46), (5, 3.38), (10, 3.38), (14, 3.46), (18, 3.53), (23, 3.66), (28, 3.74), (32, 3.77),
              (37, 3.74), (41, 3.70), (44, 3.54), (47, 3.34), (51, 3.14), (54, 2.97), (57, 2.80), (60, 2.63),
              (65, 2.55), (71, 2.60), (76, 2.65), (82, 2.68), (87, 2.68), (93, 2.71), (99, 2.74), (105, 2.85),
              (109, 2.97), (114, 3.05), (120, 3.11), (126, 3.14), (132, 3.08), (137, 3.17), (143, 3.26),
              (148, 3.26), (153, 3.20), (157, 3.17), (160, 3.08), (164, 2.97), (168, 2.80), (172, 2.63),
              (176, 2.37), (180, 2.31), (184, 2.40), (187, 2.60), (191, 2.77), (196, 2.91), (201, 3.03),
              (207, 3.08), (212, 3.14), (216, 3.20), (221, 3.14), (226, 3.08), (231, 3.11), (235, 3.14),
              (240, 3.17), (245, 3.23), (250, 3.14), (255, 3.00), (259, 3.08), (264, 3.05), (269, 3.17),
              (274, 3.20), (279, 3.20), (282, 3.08), (286, 2.91), (291, 2.80), (295, 2.71), (300, 2.80),
              (305, 2.77), (309, 2.85), (314, 2.88), (319, 2.94), (323, 3.08), (328, 3.20), (334, 3.20),
              (339, 3.23), (344, 3.28), (349, 3.28), (354, 3.23), (359, 3.11), (363, 2.91), (367, 2.77),
              (372, 2.68), (377, 2.80), (382, 2.85), (386, 2.71), (391, 2.77), (395, 2.97), (400, 3.03),
              (405, 3.03), (409, 2.97), (414, 3.03), (419, 3.08), (424, 3.31), (429, 3.34), (434, 3.37),
              (439, 3.20), (443, 3.26), (448, 3.34), (453, 3.37), (457, 3.17), (460, 3.05), (465, 2.97),
              (470, 3.20), (474, 3.14), (478, 3.05), (482, 2.91), (487, 2.91), (492, 2.91), (496, 2.85),
              (500, 2.80)]
s4800_magenta = [(0, 3.77), (5, 3.81), (9, 3.80), (12, 3.73), (16, 3.71), (20, 3.57), (24, 3.48), (28, 3.34),
                 (32, 3.28), (35, 3.20), (39, 3.08), (43, 3.00), (47, 2.88), (51, 2.88), (55, 2.85), (58, 2.80),
                 (62, 2.91), (66, 2.91), (70, 2.94), (73, 3.00), (76, 2.94), (80, 2.74), (84, 2.57), (87, 2.31),
                 (91, 2.05), (95, 1.85), (99, 1.59), (102, 1.36), (104, 1.08), (107, 0.96), (109, 1.02),
                 (112, 1.25), (115, 1.08), (118, 0.96), (122, 0.91), (126, 1.25), (130, 1.54), (134, 1.77),
                 (137, 1.65), (141, 1.48), (145, 1.11), (150, 0.88), (155, 1.11), (159, 1.34), (163, 1.25),
                 (167, 1.05), (171, 0.99), (175, 1.11), (179, 1.02), (182, 1.31), (186, 1.48), (191, 1.54),
                 (196, 1.31), (201, 0.91), (205, 1.25), (210, 1.48), (215, 1.49), (220, 1.42), (224, 1.25),
                 (228, 0.91), (232, 1.20), (237, 1.42), (242, 1.42), (247, 1.25), (252, 0.88), (255, 1.11),
                 (259, 1.25), (262, 0.96), (265, 1.25), (269, 1.34), (274, 1.05), (278, 0.96), (282, 1.25),
                 (287, 1.54), (291, 1.65), (295, 1.74), (299, 1.59), (303, 1.45), (307, 1.42), (310, 1.31),
                 (314, 1.28), (316, 0.99), (319, 0.96), (323, 1.14), (328, 1.25), (332, 1.31), (335, 1.11),
                 (339, 0.88), (343, 1.11), (347, 1.25), (351, 0.99), (355, 1.25), (359, 1.39), (364, 1.36),
                 (369, 1.11), (374, 0.96), (379, 1.08), (382, 0.96), (386, 1.20), (391, 1.48), (396, 1.57),
                 (401, 1.51), (407, 1.31), (412, 1.02), (414, 0.96), (418, 1.11), (423, 1.16), (428, 1.11),
                 (432, 1.05), (436, 0.99), (441, 1.02), (446, 1.14), (450, 0.99), (454, 1.05), (458, 0.99),
                 (462, 1.08), (465, 0.96), (469, 1.08), (473, 0.99), (477, 1.11), (481, 0.96), (485, 1.05),
                 (489, 0.96), (492, 1.11), (496, 0.96), (500, 1.08)]
d4800_magenta = [(0, 1.02), (10, 1.00), (20, 1.03), (30, 0.99), (40, 1.02), (50, 0.98), (60, 1.02), (70, 1.01),
                 (80, 1.03), (90, 1.00), (100, 0.98), (103, 1.02), (107, 1.36), (110, 1.39), (114, 1.59),
                 (118, 1.65), (121, 1.59), (124, 1.25), (127, 1.02), (130, 1.25), (134, 1.39), (137, 1.17),
                 (141, 1.34), (145, 1.59), (149, 1.82), (152, 1.85), (155, 1.65), (158, 1.36), (162, 1.25),
                 (164, 1.48), (168, 1.74), (172, 1.77), (176, 1.59), (180, 1.34), (184, 1.14), (187, 1.17),
                 (191, 1.31), (196, 1.48), (201, 1.42), (205, 1.31), (209, 1.11), (212, 1.14), (216, 1.31),
                 (221, 1.51), (225, 1.65), (229, 1.77), (232, 1.74), (236, 1.54), (239, 1.25), (244, 1.11),
                 (248, 1.25), (252, 1.42), (255, 1.48), (259, 1.34), (263, 1.11), (267, 1.31), (271, 1.49),
                 (275, 1.36), (279, 1.22), (282, 1.54), (285, 1.59), (289, 1.42), (293, 1.22), (297, 1.11),
                 (302, 1.08), (307, 1.11), (310, 1.25), (314, 1.45), (318, 1.51), (322, 1.42), (326, 1.39),
                 (330, 1.39), (334, 1.48), (337, 1.54), (341, 1.59), (345, 1.57), (349, 1.65), (353, 1.62),
                 (357, 1.54), (360, 1.39), (364, 1.48), (368, 1.65), (373, 1.85), (378, 1.88), (382, 1.82),
                 (386, 1.65), (390, 1.42), (394, 1.25), (398, 1.14), (402, 1.05), (405, 1.14), (409, 1.11),
                 (413, 1.25), (417, 1.48), (421, 1.51), (425, 1.36), (429, 1.45), (432, 1.54), (436, 1.71),
                 (440, 1.71), (444, 1.59), (448, 1.54), (452, 1.71), (455, 1.85), (459, 1.94), (463, 2.02),
                 (467, 2.05), (471, 1.94), (475, 1.82), (479, 1.91), (482, 1.94), (486, 1.97), (490, 2.00),
                 (494, 1.94), (498, 1.97), (500, 1.91)]

# ---------------- 5000 ----------------
s5000_red = [0.98, 0.96, 1.00, 0.95, 0.99, 0.95, 1.00, 0.95, 0.99, 0.95,
             1.00, 0.95, 0.99, 0.95, 1.00, 0.94, 0.99, 0.95, 1.00, 0.94,
             1.00, 0.94, 1.01, 0.94, 1.00, 0.94, 1.01, 0.94, 1.00, 0.94,
             1.01, 0.93, 1.00, 0.94, 1.01, 0.93, 1.02, 0.94, 1.01, 0.93,
             1.02, 0.93, 1.01, 0.93, 1.02, 0.93, 1.01, 0.93, 1.02, 0.93,
             1.03, 0.92, 1.02, 0.93, 1.03, 0.92, 1.02, 0.93, 1.03, 0.92,
             1.03, 0.92, 1.04, 0.92, 1.03, 0.92, 1.04, 0.92, 1.03, 0.92,
             1.04, 0.92, 1.03, 0.92, 1.04, 0.93, 1.03, 0.93, 1.04, 0.93,
             1.03, 0.93, 1.02, 0.94, 1.03, 0.94, 1.02, 0.94, 1.01, 0.95,
             1.01, 0.95, 1.00, 0.95, 1.01, 0.96, 1.00, 0.95, 0.99, 0.96,
             0.95]
d5000_red = [(0, 3.34), (4, 3.29), (8, 3.26), (12, 3.23), (16, 3.20), (20, 3.09), (24, 3.03), (28, 3.02),
             (32, 2.97), (35, 2.89), (38, 2.72), (42, 2.67), (46, 2.80), (50, 2.92), (54, 2.97), (58, 2.97),
             (61, 3.03), (65, 3.20), (69, 3.32), (73, 3.43), (77, 3.40), (81, 3.34), (84, 3.43), (88, 3.49),
             (92, 3.59), (96, 3.46), (100, 3.34), (104, 3.34), (107, 3.26), (111, 3.32), (115, 3.29),
             (119, 3.09), (123, 2.92), (127, 2.86), (131, 2.86), (134, 2.89), (138, 2.72), (142, 2.63),
             (146, 2.69), (150, 2.86), (154, 3.00), (157, 3.06), (161, 3.09), (165, 3.14), (169, 3.23),
             (173, 3.26), (177, 3.26), (180, 3.23), (184, 3.26), (188, 3.14), (192, 3.06), (196, 3.00),
             (200, 2.97), (203, 2.92), (207, 2.92), (211, 2.94), (215, 2.89), (219, 2.89), (223, 2.92),
             (226, 2.86), (230, 2.92), (234, 2.94), (238, 2.89), (242, 2.92), (246, 2.94), (250, 2.94),
             (253, 2.92), (257, 2.94), (261, 2.92), (265, 2.97), (269, 3.03), (272, 3.09), (276, 3.17),
             (280, 3.26), (284, 3.32), (288, 3.37), (292, 3.34), (296, 3.32), (299, 3.29), (303, 3.34),
             (307, 3.37), (311, 3.29), (315, 3.09), (319, 2.97), (322, 2.92), (326, 2.89), (330, 2.86),
             (334, 2.80), (338, 2.86), (342, 2.94), (345, 3.00), (349, 3.03), (353, 3.09), (357, 3.14),
             (361, 3.17), (365, 3.17), (368, 3.20), (372, 3.26), (376, 3.32), (380, 3.32), (384, 3.26),
             (388, 3.20), (391, 3.14), (395, 3.09), (399, 3.03), (403, 3.09), (407, 3.06), (411, 3.03),
             (414, 3.03), (418, 3.00), (422, 3.03), (426, 3.00), (430, 3.03), (434, 3.03), (438, 3.09),
             (441, 3.17), (445, 3.20), (449, 3.12), (453, 3.09), (457, 3.09), (461, 3.14), (464, 3.03),
             (468, 2.92), (472, 2.83), (476, 2.89), (480, 3.03), (484, 3.09), (487, 2.97), (491, 2.86),
             (495, 2.92), (500, 2.97)]
s5000_green = [(0, 1.83), (4, 1.60), (8, 1.32), (11, 1.03), (13, 0.92), (15, 0.88), (17, 0.98), (19, 1.15),
               (22, 1.35), (25, 1.46), (28, 1.38), (31, 1.15), (34, 0.95), (37, 0.95), (39, 1.15), (42, 1.32),
               (45, 1.36), (48, 1.26), (51, 1.03), (56, 1.00), (61, 1.06), (66, 1.00), (71, 1.09), (76, 1.00),
               (81, 1.06), (86, 1.00), (92, 1.07), (98, 1.00), (104, 1.07), (109, 1.00), (114, 1.10),
               (120, 1.00), (125, 1.12), (130, 1.00), (136, 1.15), (140, 1.23), (144, 1.17), (148, 1.00),
               (153, 1.09), (157, 1.29), (161, 1.32), (165, 1.17), (168, 1.00), (172, 1.12), (177, 1.20),
               (181, 1.12), (185, 1.00), (190, 1.20), (194, 1.00), (199, 1.15), (203, 1.00), (208, 1.15),
               (213, 1.00), (217, 1.15), (222, 1.00), (226, 1.15), (231, 1.00), (236, 1.19), (241, 1.00),
               (246, 1.06), (249, 1.00), (254, 1.23), (259, 1.38), (263, 1.32), (267, 1.09), (271, 0.98),
               (276, 1.12), (280, 1.00), (285, 1.15), (290, 1.00), (296, 1.18), (301, 1.00), (305, 1.15),
               (310, 1.00), (315, 1.12), (320, 1.00), (324, 1.12), (329, 1.00), (334, 1.10), (339, 1.00),
               (343, 1.06), (347, 1.00), (352, 1.23), (357, 1.25), (363, 1.09), (367, 1.00), (371, 1.15),
               (376, 1.00), (382, 1.23), (386, 1.23), (391, 1.00), (397, 1.28), (402, 1.26), (408, 1.00),
               (413, 1.23), (418, 1.26), (424, 1.00), (429, 1.15), (434, 1.00), (438, 1.22), (443, 1.20),
               (448, 1.00), (453, 1.13), (457, 1.00), (462, 1.15), (467, 1.00), (472, 1.12), (477, 1.00),
               (482, 1.20), (487, 1.26), (491, 1.20), (495, 1.00), (500, 1.00)]
d5000_green = [(0, 1.00), (4, 1.12), (8, 1.32), (12, 1.52), (15, 1.69), (18, 1.55), (22, 1.26), (25, 1.03),
               (28, 1.26), (32, 1.43), (35, 1.52), (38, 1.32), (42, 1.46), (45, 1.40), (48, 1.20), (52, 1.26),
               (54, 1.52), (58, 1.66), (63, 1.66), (69, 1.74), (73, 1.72), (77, 1.80), (81, 1.95), (84, 1.89),
               (88, 1.90), (92, 1.86), (96, 1.95), (100, 2.00), (104, 1.92), (107, 1.89), (111, 1.78),
               (115, 1.78), (119, 1.75), (123, 1.58), (127, 1.58), (131, 1.52), (134, 1.32), (138, 1.23),
               (142, 1.26), (146, 1.23), (150, 1.15), (154, 1.26), (157, 1.26), (161, 1.43), (165, 1.55),
               (169, 1.63), (173, 1.58), (177, 1.63), (180, 1.72), (184, 1.80), (188, 1.78), (192, 1.83),
               (196, 1.86), (200, 1.83), (203, 1.83), (207, 1.86), (211, 1.72), (215, 1.66), (219, 1.60),
               (223, 1.49), (226, 1.43), (230, 1.40), (234, 1.37), (238, 1.32), (242, 1.37), (246, 1.35),
               (249, 1.29), (253, 1.18), (257, 1.15), (261, 1.29), (265, 1.43), (269, 1.60), (272, 1.66),
               (276, 1.66), (280, 1.63), (284, 1.66), (288, 1.69), (292, 1.72), (296, 1.78), (299, 1.72),
               (303, 1.66), (307, 1.72), (311, 1.69), (315, 1.66), (319, 1.66), (322, 1.69), (326, 1.60),
               (330, 1.55), (334, 1.52), (338, 1.55), (342, 1.46), (345, 1.37), (349, 1.32), (353, 1.20),
               (357, 1.29), (361, 1.43), (365, 1.52), (368, 1.55), (372, 1.58), (376, 1.60), (380, 1.52),
               (384, 1.43), (388, 1.55), (391, 1.69), (395, 1.60), (399, 1.43), (403, 1.32), (407, 1.43),
               (411, 1.60), (414, 1.55), (418, 1.40), (422, 1.32), (426, 1.37), (430, 1.46), (434, 1.40),
               (438, 1.32), (441, 1.40), (445, 1.55), (449, 1.58), (453, 1.55), (457, 1.58), (461, 1.52),
               (464, 1.60), (468, 1.66), (472, 1.66), (476, 1.72), (480, 1.78), (484, 1.75), (487, 1.55),
               (491, 1.35), (495, 1.46), (500, 1.58)]
s5000_blue = [0.99, 0.96, 0.99, 0.97, 1.00, 0.96, 0.99, 0.97, 1.00, 0.96,
              0.99, 0.97, 1.00, 0.96, 1.01, 0.97, 1.00, 0.96, 1.01, 0.97,
              1.00, 0.96, 1.01, 0.97, 1.00, 0.96, 1.02, 0.97, 1.01, 0.96,
              1.02, 0.97, 1.01, 0.96, 1.02, 0.97, 1.03, 0.96, 1.02, 0.97,
              1.03, 0.96, 1.02, 0.97, 1.03, 0.96, 1.02, 0.97, 1.03, 0.96,
              1.02, 0.97, 1.03, 0.96, 1.02, 0.97, 1.01, 0.96, 1.02, 0.97,
              1.01, 0.96, 1.02, 0.97, 1.01, 0.96, 1.00, 0.97, 1.01, 0.96,
              1.00, 0.97, 1.01, 0.96, 1.00, 0.97, 1.01, 0.96, 1.00, 0.97,
              0.99, 0.96, 1.00, 0.97, 0.99, 0.96, 1.00, 0.97, 0.99, 0.96,
              1.00, 0.97, 0.99, 0.96, 1.00, 0.97, 0.99, 0.96, 0.98, 0.97,
              0.95]
d5000_blue = [(0, 3.60), (4, 3.54), (8, 3.46), (12, 3.34), (15, 3.23), (19, 3.12), (23, 3.06), (27, 3.06),
              (31, 3.03), (35, 2.97), (38, 3.03), (42, 3.09), (46, 3.20), (50, 3.20), (54, 3.20), (58, 3.14),
              (61, 3.23), (65, 3.29), (69, 3.34), (73, 3.26), (77, 3.26), (81, 3.32), (84, 3.43), (88, 3.52),
              (92, 3.54), (96, 3.49), (100, 3.43), (104, 3.46), (107, 3.46), (111, 3.52), (115, 3.43),
              (119, 3.29), (123, 3.20), (127, 3.14), (131, 3.09), (134, 2.97), (138, 2.92), (142, 2.86),
              (146, 2.92), (150, 2.89), (154, 2.86), (157, 2.83), (161, 2.86), (165, 2.97), (169, 3.03),
              (173, 3.09), (177, 3.17), (180, 3.26), (184, 3.34), (188, 3.43), (192, 3.49), (196, 3.54),
              (200, 3.46), (203, 3.37), (207, 3.34), (211, 3.37), (215, 3.26), (219, 3.14), (223, 3.03),
              (226, 3.09), (230, 3.20), (234, 3.17), (238, 3.09), (242, 3.14), (246, 3.14), (249, 3.09),
              (253, 3.06), (257, 2.97), (261, 2.94), (265, 2.89), (269, 2.92), (272, 2.89), (276, 2.80),
              (280, 2.74), (284, 2.74), (288, 2.86), (292, 2.97), (296, 3.03), (299, 3.06), (303, 3.09),
              (307, 3.17), (311, 3.20), (315, 3.23), (319, 3.26), (322, 3.23), (326, 3.26), (330, 3.26),
              (334, 3.23), (338, 3.14), (342, 3.09), (345, 3.03), (349, 3.00), (353, 2.97), (357, 2.94),
              (361, 2.92), (365, 2.89), (368, 2.94), (372, 2.97), (376, 3.03), (380, 3.06), (384, 3.09),
              (388, 3.14), (391, 3.20), (395, 3.23), (399, 3.20), (403, 3.23), (407, 3.20), (411, 3.14),
              (414, 3.06), (418, 3.00), (422, 2.97), (426, 2.97), (430, 2.94), (434, 2.86), (438, 2.77),
              (441, 2.83), (445, 2.89), (449, 2.97), (453, 2.94), (457, 2.97), (461, 3.03), (464, 3.09),
              (468, 3.14), (472, 3.20), (476, 3.26), (480, 3.34), (484, 3.34), (487, 3.37), (491, 3.40),
              (495, 3.29), (500, 3.17)]
s5000_magenta = [(0, 3.13), (4, 3.23), (8, 3.27), (12, 3.26), (16, 3.29), (20, 3.26), (24, 3.32), (28, 3.23),
                 (32, 3.12), (35, 3.09), (38, 2.94), (42, 3.00), (45, 3.03), (49, 2.94), (53, 3.03), (57, 3.06),
                 (61, 3.20), (65, 3.29), (68, 3.49), (72, 3.54), (76, 3.71), (81, 3.71), (84, 3.80), (88, 3.77),
                 (92, 3.83), (96, 3.83), (99, 3.83), (103, 3.74), (107, 3.80), (111, 3.69), (113, 3.63),
                 (117, 3.66), (121, 3.49), (125, 3.32), (129, 3.20), (132, 3.20), (136, 3.09), (140, 2.97),
                 (144, 2.97), (148, 2.89), (152, 2.94), (155, 2.97), (159, 3.12), (163, 3.09), (167, 3.14),
                 (171, 3.13), (175, 3.17), (178, 3.26), (182, 3.23), (186, 3.34), (190, 3.37), (194, 3.40),
                 (198, 3.52), (202, 3.54), (205, 3.57), (209, 3.52), (213, 3.59), (217, 3.52), (221, 3.43),
                 (225, 3.52), (228, 3.37), (232, 3.20), (236, 3.14), (240, 3.09), (244, 3.00), (248, 2.94),
                 (251, 2.89), (255, 2.86), (259, 2.74), (263, 2.83), (267, 2.97), (271, 3.12), (274, 3.26),
                 (278, 3.49), (282, 3.52), (286, 3.46), (290, 3.57), (294, 3.46), (297, 3.26), (301, 3.03),
                 (305, 2.86), (309, 2.74), (313, 2.74), (317, 2.86), (320, 3.03), (324, 3.17), (328, 3.29),
                 (332, 3.32), (336, 3.26), (340, 3.17), (343, 3.14), (347, 3.03), (351, 2.97), (355, 2.86),
                 (359, 2.69), (363, 2.52), (367, 2.57), (370, 2.74), (374, 2.97), (378, 3.14), (382, 3.32),
                 (386, 3.37), (390, 3.32), (393, 3.37), (397, 3.26), (401, 3.14), (405, 3.03), (409, 2.86),
                 (413, 2.74), (416, 2.74), (420, 2.86), (424, 3.03), (428, 3.06), (432, 3.20), (436, 3.20),
                 (439, 3.29), (443, 3.23), (447, 3.32), (451, 3.26), (455, 3.32), (459, 3.23), (462, 3.20),
                 (466, 3.32), (470, 3.26), (474, 3.20), (478, 3.23), (482, 3.17), (485, 3.26), (489, 3.32),
                 (493, 3.34), (497, 3.40), (500, 3.29)]
d5000_magenta = [1.01, 0.99, 1.02, 0.98, 1.02, 1.00, 1.03, 0.99, 1.02, 0.98,
                 1.01, 0.97, 1.02, 0.99, 1.01, 0.98, 1.03, 0.97, 1.02, 0.99,
                 1.01, 0.98, 1.02, 0.96, 1.01, 0.99, 1.02, 0.98, 1.03, 0.99,
                 1.02, 0.98, 1.03, 0.99, 1.02, 1.00, 1.03, 0.99, 1.04, 1.00,
                 1.03, 0.99, 1.04, 1.00, 1.03, 0.99, 1.04, 1.00, 1.03, 0.99,
                 1.04, 1.00, 1.03, 0.99, 1.04, 1.00, 1.03, 0.99, 1.04, 1.00,
                 1.03, 0.99, 1.04, 1.00, 1.03, 0.99, 1.02, 1.00, 1.03, 0.99,
                 1.02, 1.00, 1.03, 0.99, 1.02, 1.00, 1.03, 0.99, 1.02, 1.00,
                 1.03, 0.99, 1.02, 1.00, 1.03, 0.99, 1.02, 1.00, 1.01, 0.99,
                 1.02, 1.00, 1.01, 0.99, 1.02, 1.00, 1.01, 0.99, 1.01, 1.00,
                 1.00]

TITLES = ["4000", "4200", "4400", "4600", "4800", "5000"]
# solid series first, dotted series drawn over them
PANEL_SERIES = [
    [s4000_red, s4000_green, s4000_blue, s4000_magenta, d4000_red, d4000_green, d4000_blue, d4000_magenta],
    [s4200_red, s4200_green, s4200_blue, s4200_magenta, d4200_red, d4200_green, d4200_blue, d4200_magenta],
    [s4400_red, s4400_green, s4400_blue, s4400_magenta, d4400_red, d4400_green, d4400_blue, d4400_magenta],
    [s4600_red, s4600_green, s4600_blue, s4600_magenta, d4600_red, d4600_green, d4600_blue, d4600_magenta],
    [s4800_red, s4800_green, s4800_blue, s4800_magenta, d4800_red, d4800_green, d4800_blue, d4800_magenta],
    [s5000_red, s5000_green, s5000_blue, s5000_magenta, d5000_red, d5000_green, d5000_blue, d5000_magenta],
]
STYLES = [(RED, "-"), (GREEN, "-"), (BLUE, "-"), (MAGENTA, "-"),
          (RED, ":"), (GREEN, ":"), (BLUE, ":"), (MAGENTA, ":")]


def series_xy(data):
    arr = np.asarray(data, dtype=float)
    if arr.ndim == 2:
        return arr[:, 0], arr[:, 1]
    return np.arange(len(arr)) * STEP, arr


plt.rcParams["font.family"] = ["Liberation Serif", "DejaVu Serif"]

fig = plt.figure(figsize=(10.94, 16.71), dpi=100)

# axes boxes [left, bottom, width, height] in figure fractions
col_left = [0.0566, 0.5643]
col_width = [0.4150, 0.4147]
row_bottom = [0.6921, 0.3572, 0.0222]
row_height = [0.2594, 0.2597, 0.2603]
title_x = [0.2477, 0.7552]
title_y = [0.9772, 0.6425, 0.3076]

AXIS_GREY = "#8c8c8c"

for i, (title, series) in enumerate(zip(TITLES, PANEL_SERIES)):
    r, c = divmod(i, 2)
    ax = fig.add_axes([col_left[c], row_bottom[r], col_width[c], row_height[r]])

    for gy in np.arange(1.0, 4.01, 0.5):
        ax.axhline(gy, color="#e2e2e2", lw=1.3, ls=(0, (3.6, 2.0)), zorder=0, clip_on=False)

    for data, (color, style) in zip(series, STYLES):
        x, y = series_xy(data)
        if style == "-":
            ax.plot(x, y, color=color, lw=2.1, solid_joinstyle="round", solid_capstyle="round", zorder=2)
        else:
            ax.plot(x, y, color=color, lw=3.1, ls=(0, (0.05, 2.0)), dash_capstyle="round", zorder=3)

    ax.set_xlim(0, 500)
    ax.set_ylim(0.5, 4.0)
    ax.xaxis.set_major_locator(MultipleLocator(100))
    ax.yaxis.set_major_locator(MultipleLocator(0.5))
    ax.yaxis.set_major_formatter(FormatStrFormatter("%.1f"))

    for side in ("top", "right"):
        ax.spines[side].set_visible(False)
    for side in ("left", "bottom"):
        ax.spines[side].set_color(AXIS_GREY)
        ax.spines[side].set_linewidth(1.3)

    ax.tick_params(axis="both", direction="inout", length=10, width=1.3, color=AXIS_GREY,
                   labelsize=16.5, labelcolor="#1a1a1a")
    ax.tick_params(axis="y", pad=8.0)
    ax.tick_params(axis="x", pad=9.0)

    fig.text(title_x[c], title_y[r], title, ha="center", va="baseline", fontsize=23.5, color="black")

fig.savefig("out.png", dpi=100)
plt.close(fig)
